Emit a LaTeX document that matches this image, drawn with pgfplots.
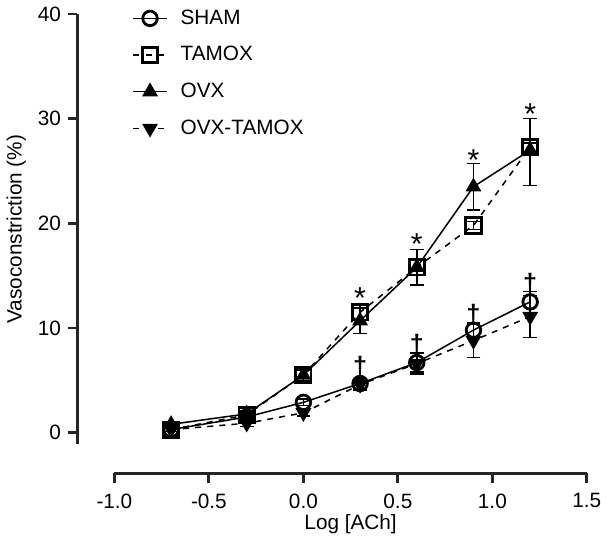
\documentclass[border=0pt]{standalone}
\usepackage{pgfplots}
\pgfplotsset{compat=1.18}
\usepackage{fontspec}
\setmainfont{Liberation Sans}

\begin{document}
\begin{tikzpicture}
\begin{axis}[
  scale only axis,
  width=234.5pt, height=213.5pt,
  xmin=-1.0, xmax=1.5, ymin=-1.1, ymax=40,
  axis x line=bottom, axis y line=left,
  axis x line shift=14.5pt, axis y line shift=18.5pt,
  axis line style={-, line width=1.4pt, black!85},
  major tick style={line width=1.4pt, black!85},
  tick align=outside, major tick length=4.5pt,
  xtick={-1.0,-0.5,0,0.5,1.0,1.5},
  ytick={0,10,20,30,40},
  xticklabel style={yshift=-2pt, /pgf/number format/.cd, fixed, fixed zerofill, precision=1},
  /pgf/number format/assume math mode=true,
  font=\fontsize{10.3}{12}\selectfont,
  xlabel={Log [ACh]}, ylabel={Vasoconstriction (\%)},
  xlabel style={yshift=4pt}, ylabel style={yshift=-1pt},
  legend style={draw=none, fill=none, at={(0.025,1.03)}, anchor=north west,
    row sep=5.5pt, font=\fontsize{10.3}{12}\selectfont},
  legend image code/.code={%
    \draw[mark repeat=2, mark phase=2] plot coordinates {(0cm,0cm) (0.29cm,0cm) (0.58cm,0cm)};
    \path (0.74cm,0cm);},
  legend cell align=left,
  every axis plot/.append style={line width=0.75pt, black},
  mark size=3.8pt,
  error bars/error bar style={line width=0.75pt, solid},
  error bars/error mark options={rotate=90, mark size=3.4pt, line width=0.75pt},
  clip=false,
]
% SHAM
\addplot[solid, mark=o, mark options={solid, fill=white, line width=1.4pt, scale=0.95},
  error bars/.cd, y dir=both, y explicit] coordinates {
  (-0.7,0.3) +- (0,0.2) (-0.3,1.5) +- (0,0.3) (0,2.9) +- (0,0.3)
  (0.3,4.7) +- (0,0.5) (0.6,6.7) +- (0,0.9) (0.9,9.8) +- (0,0.7) (1.2,12.5) +- (0,1.0)
};
\addlegendentry{SHAM}
% TAMOX
\addplot[dashed, mark=square, mark options={solid, fill=white, line width=1.4pt},
  error bars/.cd, y dir=both, y explicit] coordinates {
  (-0.7,0.3) +- (0,0.2) (-0.3,1.7) +- (0,0.3) (0,5.5) +- (0,0.5)
  (0.3,11.5) +- (0,0.7) (0.6,15.8) +- (0,0.8) (0.9,19.8) +- (0,0.4) (1.2,27.3) += (0,0.4) -= (0,3.7)
};
\addlegendentry{TAMOX}
% OVX
\addplot[solid, mark=triangle*, mark options={solid, fill=black},
  error bars/.cd, y dir=both, y explicit] coordinates {
  (-0.7,0.8) +- (0,0.2) (-0.3,1.8) +- (0,0.3) (0,5.5) +- (0,0.6)
  (0.3,10.7) +- (0,1.2) (0.6,15.8) +- (0,1.7) (0.9,23.5) +- (0,2.2) (1.2,27.0) += (0,3.0) -= (0,0.5)
};
\addlegendentry{OVX}
% OVX-TAMOX
\addplot[dashed, mark=triangle*, mark options={solid, fill=black, rotate=180},
  error bars/.cd, y dir=both, y explicit] coordinates {
  (-0.7,0.3) +- (0,0.2) (-0.3,0.9) +- (0,0.3) (0,1.9) +- (0,0.3)
  (0.3,4.6) +- (0,0.5) (0.6,6.6) +- (0,1.0) (0.9,8.8) +- (0,1.6) (1.2,11.1) +- (0,2.0)
};
\addlegendentry{OVX-TAMOX}
% significance marks
\addplot[draw=none, mark=none, forget plot, point meta=explicit symbolic,
  nodes near coords, nodes near coords style={anchor=center, font=\fontsize{15}{15}\selectfont}]
  coordinates {
  (0.3,12.9) [*] (0.6,18.0) [*] (0.9,26.0) [*] (1.2,30.4) [*]
};
\addplot[draw=none, mark=none, forget plot, point meta=explicit symbolic,
  nodes near coords, nodes near coords style={anchor=center, font=\bfseries\fontsize{12.5}{12.5}\selectfont}]
  coordinates {
  (0.3,6.4) [†] (0.6,8.5) [†] (0.9,11.3) [†] (1.2,14.3) [†]
};
\end{axis}
\end{tikzpicture}
\end{document}
